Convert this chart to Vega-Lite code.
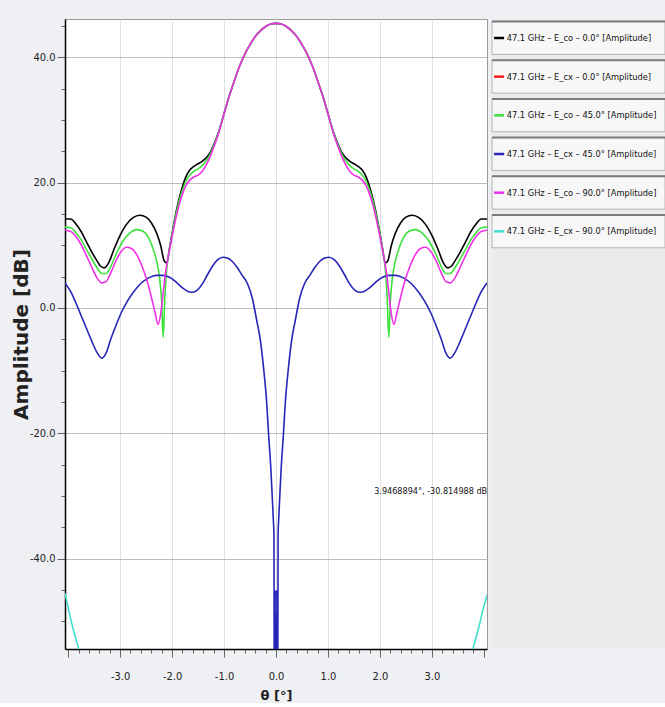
{
"$schema": "https://vega.github.io/schema/vega-lite/v6.json",
"background": "#eef0f3",
"padding": {"left": 10, "top": 18, "right": 0, "bottom": 0},
"spacing": 3,
"config": {"font": "'DejaVu Sans Condensed', 'Liberation Sans', sans-serif", "view": {"stroke": null}},
"resolve": {"scale": {"color": "shared"}},
"datasets": {
"lines": [
{"s":"co0","t":-4.06,"a":14.2},{"s":"co0","t":-3.95,"a":14.2},{"s":"co0","t":-3.85,"a":13.4},{"s":"co0","t":-3.75,"a":12.2},{"s":"co0","t":-3.65,"a":10.6},{"s":"co0","t":-3.55,"a":9.0},{"s":"co0","t":-3.45,"a":7.6},{"s":"co0","t":-3.38,"a":6.7},{"s":"co0","t":-3.30,"a":6.4},{"s":"co0","t":-3.22,"a":7.2},{"s":"co0","t":-3.12,"a":9.3},{"s":"co0","t":-3.00,"a":11.6},{"s":"co0","t":-2.88,"a":13.3},{"s":"co0","t":-2.75,"a":14.4},{"s":"co0","t":-2.62,"a":14.8},{"s":"co0","t":-2.50,"a":14.5},{"s":"co0","t":-2.40,"a":13.6},{"s":"co0","t":-2.30,"a":12.0},{"s":"co0","t":-2.22,"a":10.0},{"s":"co0","t":-2.15,"a":7.5},{"s":"co0","t":-2.10,"a":7.2},{"s":"co0","t":-2.05,"a":9.5},{"s":"co0","t":-1.98,"a":12.8},{"s":"co0","t":-1.90,"a":16.2},{"s":"co0","t":-1.82,"a":18.8},{"s":"co0","t":-1.74,"a":20.8},{"s":"co0","t":-1.66,"a":22.0},{"s":"co0","t":-1.58,"a":22.6},{"s":"co0","t":-1.50,"a":23.0},{"s":"co0","t":-1.42,"a":23.4},{"s":"co0","t":-1.35,"a":23.9},{"s":"co0","t":-1.28,"a":24.6},{"s":"co0","t":-1.20,"a":26.0},{"s":"co0","t":-1.10,"a":28.2},{"s":"co0","t":-1.00,"a":31.0},{"s":"co0","t":-0.90,"a":33.8},{"s":"co0","t":-0.80,"a":36.3},{"s":"co0","t":-0.70,"a":38.6},{"s":"co0","t":-0.60,"a":40.5},{"s":"co0","t":-0.50,"a":42.0},{"s":"co0","t":-0.40,"a":43.3},{"s":"co0","t":-0.30,"a":44.2},{"s":"co0","t":-0.20,"a":44.9},{"s":"co0","t":-0.10,"a":45.3},{"s":"co0","t":0.0,"a":45.4},
{"s":"co0","t":0.10,"a":45.3},{"s":"co0","t":0.20,"a":44.9},{"s":"co0","t":0.30,"a":44.2},{"s":"co0","t":0.40,"a":43.3},{"s":"co0","t":0.50,"a":42.0},{"s":"co0","t":0.60,"a":40.5},{"s":"co0","t":0.70,"a":38.6},{"s":"co0","t":0.80,"a":36.3},{"s":"co0","t":0.90,"a":33.8},{"s":"co0","t":1.00,"a":31.0},{"s":"co0","t":1.10,"a":28.2},{"s":"co0","t":1.20,"a":26.0},{"s":"co0","t":1.28,"a":24.6},{"s":"co0","t":1.35,"a":23.9},{"s":"co0","t":1.42,"a":23.4},{"s":"co0","t":1.50,"a":23.0},{"s":"co0","t":1.58,"a":22.6},{"s":"co0","t":1.66,"a":22.0},{"s":"co0","t":1.74,"a":20.8},{"s":"co0","t":1.82,"a":18.8},{"s":"co0","t":1.90,"a":16.2},{"s":"co0","t":1.98,"a":12.8},{"s":"co0","t":2.05,"a":9.5},{"s":"co0","t":2.10,"a":7.2},{"s":"co0","t":2.15,"a":7.5},{"s":"co0","t":2.22,"a":10.0},{"s":"co0","t":2.30,"a":12.0},{"s":"co0","t":2.40,"a":13.6},{"s":"co0","t":2.50,"a":14.5},{"s":"co0","t":2.62,"a":14.8},{"s":"co0","t":2.75,"a":14.4},{"s":"co0","t":2.88,"a":13.3},{"s":"co0","t":3.00,"a":11.6},{"s":"co0","t":3.12,"a":9.3},{"s":"co0","t":3.22,"a":7.2},{"s":"co0","t":3.30,"a":6.4},{"s":"co0","t":3.38,"a":6.7},{"s":"co0","t":3.45,"a":7.6},{"s":"co0","t":3.55,"a":9.0},{"s":"co0","t":3.65,"a":10.6},{"s":"co0","t":3.75,"a":12.2},{"s":"co0","t":3.85,"a":13.4},{"s":"co0","t":3.95,"a":14.2},{"s":"co0","t":4.06,"a":14.2},
{"s":"cx0","t":-4.06,"a":-70},{"s":"cx0","t":-2.0,"a":-78},{"s":"cx0","t":0.0,"a":-90},{"s":"cx0","t":2.0,"a":-78},{"s":"cx0","t":4.06,"a":-70},
{"s":"co45","t":-4.06,"a":12.9},{"s":"co45","t":-3.95,"a":12.8},{"s":"co45","t":-3.85,"a":12.0},{"s":"co45","t":-3.75,"a":10.9},{"s":"co45","t":-3.65,"a":9.4},{"s":"co45","t":-3.55,"a":7.9},{"s":"co45","t":-3.45,"a":6.5},{"s":"co45","t":-3.35,"a":5.5},{"s":"co45","t":-3.27,"a":5.5},{"s":"co45","t":-3.18,"a":6.6},{"s":"co45","t":-3.08,"a":8.5},{"s":"co45","t":-2.95,"a":10.6},{"s":"co45","t":-2.82,"a":11.9},{"s":"co45","t":-2.68,"a":12.5},{"s":"co45","t":-2.55,"a":12.2},{"s":"co45","t":-2.45,"a":11.2},{"s":"co45","t":-2.38,"a":9.8},{"s":"co45","t":-2.30,"a":7.6},{"s":"co45","t":-2.24,"a":4.8},{"s":"co45","t":-2.20,"a":1.0},{"s":"co45","t":-2.17,"a":-4.7},{"s":"co45","t":-2.14,"a":1.5},{"s":"co45","t":-2.10,"a":6.5},{"s":"co45","t":-2.05,"a":9.3},{"s":"co45","t":-1.98,"a":12.6},{"s":"co45","t":-1.90,"a":15.9},{"s":"co45","t":-1.82,"a":18.3},{"s":"co45","t":-1.74,"a":20.1},{"s":"co45","t":-1.66,"a":21.2},{"s":"co45","t":-1.58,"a":21.8},{"s":"co45","t":-1.50,"a":22.2},{"s":"co45","t":-1.42,"a":22.7},{"s":"co45","t":-1.35,"a":23.4},{"s":"co45","t":-1.28,"a":24.3},{"s":"co45","t":-1.20,"a":25.8},{"s":"co45","t":-1.10,"a":28.1},{"s":"co45","t":-1.00,"a":31.0},{"s":"co45","t":-0.90,"a":33.8},{"s":"co45","t":-0.80,"a":36.3},{"s":"co45","t":-0.70,"a":38.6},{"s":"co45","t":-0.60,"a":40.5},{"s":"co45","t":-0.50,"a":42.0},{"s":"co45","t":-0.40,"a":43.3},{"s":"co45","t":-0.30,"a":44.2},{"s":"co45","t":-0.20,"a":44.9},{"s":"co45","t":-0.10,"a":45.3},{"s":"co45","t":0.0,"a":45.4},
{"s":"co45","t":0.10,"a":45.3},{"s":"co45","t":0.20,"a":44.9},{"s":"co45","t":0.30,"a":44.2},{"s":"co45","t":0.40,"a":43.3},{"s":"co45","t":0.50,"a":42.0},{"s":"co45","t":0.60,"a":40.5},{"s":"co45","t":0.70,"a":38.6},{"s":"co45","t":0.80,"a":36.3},{"s":"co45","t":0.90,"a":33.8},{"s":"co45","t":1.00,"a":31.0},{"s":"co45","t":1.10,"a":28.1},{"s":"co45","t":1.20,"a":25.8},{"s":"co45","t":1.28,"a":24.3},{"s":"co45","t":1.35,"a":23.4},{"s":"co45","t":1.42,"a":22.7},{"s":"co45","t":1.50,"a":22.2},{"s":"co45","t":1.58,"a":21.8},{"s":"co45","t":1.66,"a":21.2},{"s":"co45","t":1.74,"a":20.1},{"s":"co45","t":1.82,"a":18.3},{"s":"co45","t":1.90,"a":15.9},{"s":"co45","t":1.98,"a":12.6},{"s":"co45","t":2.05,"a":9.3},{"s":"co45","t":2.10,"a":6.5},{"s":"co45","t":2.14,"a":1.5},{"s":"co45","t":2.17,"a":-4.7},{"s":"co45","t":2.20,"a":1.0},{"s":"co45","t":2.24,"a":4.8},{"s":"co45","t":2.30,"a":7.6},{"s":"co45","t":2.38,"a":9.8},{"s":"co45","t":2.45,"a":11.2},{"s":"co45","t":2.55,"a":12.2},{"s":"co45","t":2.68,"a":12.5},{"s":"co45","t":2.82,"a":11.9},{"s":"co45","t":2.95,"a":10.6},{"s":"co45","t":3.08,"a":8.5},{"s":"co45","t":3.18,"a":6.6},{"s":"co45","t":3.27,"a":5.5},{"s":"co45","t":3.35,"a":5.5},{"s":"co45","t":3.45,"a":6.5},{"s":"co45","t":3.55,"a":7.9},{"s":"co45","t":3.65,"a":9.4},{"s":"co45","t":3.75,"a":10.9},{"s":"co45","t":3.85,"a":12.0},{"s":"co45","t":3.95,"a":12.8},{"s":"co45","t":4.06,"a":12.9},
{"s":"cx45","t":-4.06,"a":4.0},{"s":"cx45","t":-3.95,"a":2.6},{"s":"cx45","t":-3.85,"a":0.8},{"s":"cx45","t":-3.75,"a":-1.2},{"s":"cx45","t":-3.65,"a":-3.2},{"s":"cx45","t":-3.55,"a":-5.2},{"s":"cx45","t":-3.45,"a":-7.0},{"s":"cx45","t":-3.35,"a":-8.0},{"s":"cx45","t":-3.27,"a":-7.2},{"s":"cx45","t":-3.18,"a":-5.0},{"s":"cx45","t":-3.08,"a":-2.8},{"s":"cx45","t":-2.98,"a":-0.8},{"s":"cx45","t":-2.85,"a":1.2},{"s":"cx45","t":-2.72,"a":2.8},{"s":"cx45","t":-2.60,"a":3.9},{"s":"cx45","t":-2.45,"a":4.8},{"s":"cx45","t":-2.30,"a":5.2},{"s":"cx45","t":-2.18,"a":5.2},{"s":"cx45","t":-2.05,"a":4.9},{"s":"cx45","t":-1.93,"a":4.2},{"s":"cx45","t":-1.80,"a":3.2},{"s":"cx45","t":-1.68,"a":2.6},{"s":"cx45","t":-1.60,"a":2.5},{"s":"cx45","t":-1.52,"a":2.8},{"s":"cx45","t":-1.42,"a":3.8},{"s":"cx45","t":-1.32,"a":5.3},{"s":"cx45","t":-1.22,"a":6.7},{"s":"cx45","t":-1.12,"a":7.7},{"s":"cx45","t":-1.02,"a":8.1},{"s":"cx45","t":-0.95,"a":8.0},{"s":"cx45","t":-0.85,"a":7.5},{"s":"cx45","t":-0.75,"a":6.5},{"s":"cx45","t":-0.65,"a":5.2},{"s":"cx45","t":-0.55,"a":3.9},{"s":"cx45","t":-0.45,"a":1.4},{"s":"cx45","t":-0.38,"a":-1.6},{"s":"cx45","t":-0.30,"a":-5.2},{"s":"cx45","t":-0.24,"a":-9.5},{"s":"cx45","t":-0.18,"a":-15.0},{"s":"cx45","t":-0.14,"a":-20.5},{"s":"cx45","t":-0.10,"a":-25.5},{"s":"cx45","t":-0.07,"a":-30.5},{"s":"cx45","t":-0.05,"a":-34.0},{"s":"cx45","t":-0.04,"a":-36.0},{"s":"cx45","t":-0.03,"a":-75},{"s":"cx45","t":-0.015,"a":-45},{"s":"cx45","t":0.0,"a":-80},{"s":"cx45","t":0.015,"a":-45},{"s":"cx45","t":0.03,"a":-75},{"s":"cx45","t":0.04,"a":-36.0},{"s":"cx45","t":0.05,"a":-34.0},{"s":"cx45","t":0.07,"a":-30.5},{"s":"cx45","t":0.10,"a":-25.5},{"s":"cx45","t":0.14,"a":-20.5},{"s":"cx45","t":0.18,"a":-15.0},{"s":"cx45","t":0.24,"a":-9.5},{"s":"cx45","t":0.30,"a":-5.2},{"s":"cx45","t":0.38,"a":-1.6},{"s":"cx45","t":0.45,"a":1.4},{"s":"cx45","t":0.55,"a":3.9},{"s":"cx45","t":0.65,"a":5.2},{"s":"cx45","t":0.75,"a":6.5},{"s":"cx45","t":0.85,"a":7.5},{"s":"cx45","t":0.95,"a":8.0},{"s":"cx45","t":1.02,"a":8.1},{"s":"cx45","t":1.12,"a":7.7},{"s":"cx45","t":1.22,"a":6.7},{"s":"cx45","t":1.32,"a":5.3},{"s":"cx45","t":1.42,"a":3.8},{"s":"cx45","t":1.52,"a":2.8},{"s":"cx45","t":1.60,"a":2.5},{"s":"cx45","t":1.68,"a":2.6},{"s":"cx45","t":1.80,"a":3.2},{"s":"cx45","t":1.93,"a":4.2},{"s":"cx45","t":2.05,"a":4.9},{"s":"cx45","t":2.18,"a":5.2},{"s":"cx45","t":2.30,"a":5.2},{"s":"cx45","t":2.45,"a":4.8},{"s":"cx45","t":2.60,"a":3.9},{"s":"cx45","t":2.72,"a":2.8},{"s":"cx45","t":2.85,"a":1.2},{"s":"cx45","t":2.98,"a":-0.8},{"s":"cx45","t":3.08,"a":-2.8},{"s":"cx45","t":3.18,"a":-5.0},{"s":"cx45","t":3.27,"a":-7.2},{"s":"cx45","t":3.35,"a":-8.0},{"s":"cx45","t":3.45,"a":-7.0},{"s":"cx45","t":3.55,"a":-5.2},{"s":"cx45","t":3.65,"a":-3.2},{"s":"cx45","t":3.75,"a":-1.2},{"s":"cx45","t":3.85,"a":0.8},{"s":"cx45","t":3.95,"a":2.6},{"s":"cx45","t":4.06,"a":4.0},
{"s":"co90","t":-4.06,"a":12.4},{"s":"co90","t":-3.95,"a":12.2},{"s":"co90","t":-3.85,"a":11.4},{"s":"co90","t":-3.75,"a":10.1},{"s":"co90","t":-3.65,"a":8.4},{"s":"co90","t":-3.55,"a":6.6},{"s":"co90","t":-3.45,"a":4.9},{"s":"co90","t":-3.35,"a":4.0},{"s":"co90","t":-3.27,"a":4.2},{"s":"co90","t":-3.18,"a":5.6},{"s":"co90","t":-3.08,"a":7.5},{"s":"co90","t":-2.98,"a":9.0},{"s":"co90","t":-2.88,"a":9.7},{"s":"co90","t":-2.78,"a":9.5},{"s":"co90","t":-2.68,"a":8.5},{"s":"co90","t":-2.58,"a":6.7},{"s":"co90","t":-2.48,"a":4.3},{"s":"co90","t":-2.40,"a":1.8},{"s":"co90","t":-2.33,"a":-0.6},{"s":"co90","t":-2.27,"a":-2.6},{"s":"co90","t":-2.22,"a":-1.0},{"s":"co90","t":-2.17,"a":2.5},{"s":"co90","t":-2.12,"a":6.0},{"s":"co90","t":-2.06,"a":8.8},{"s":"co90","t":-1.98,"a":12.2},{"s":"co90","t":-1.90,"a":15.3},{"s":"co90","t":-1.82,"a":17.7},{"s":"co90","t":-1.74,"a":19.4},{"s":"co90","t":-1.66,"a":20.4},{"s":"co90","t":-1.58,"a":20.9},{"s":"co90","t":-1.50,"a":21.2},{"s":"co90","t":-1.42,"a":21.8},{"s":"co90","t":-1.35,"a":22.7},{"s":"co90","t":-1.28,"a":23.9},{"s":"co90","t":-1.20,"a":25.6},{"s":"co90","t":-1.10,"a":28.0},{"s":"co90","t":-1.00,"a":31.0},{"s":"co90","t":-0.90,"a":33.8},{"s":"co90","t":-0.80,"a":36.3},{"s":"co90","t":-0.70,"a":38.6},{"s":"co90","t":-0.60,"a":40.5},{"s":"co90","t":-0.50,"a":42.0},{"s":"co90","t":-0.40,"a":43.3},{"s":"co90","t":-0.30,"a":44.2},{"s":"co90","t":-0.20,"a":44.9},{"s":"co90","t":-0.10,"a":45.3},{"s":"co90","t":0.0,"a":45.4},
{"s":"co90","t":0.10,"a":45.3},{"s":"co90","t":0.20,"a":44.9},{"s":"co90","t":0.30,"a":44.2},{"s":"co90","t":0.40,"a":43.3},{"s":"co90","t":0.50,"a":42.0},{"s":"co90","t":0.60,"a":40.5},{"s":"co90","t":0.70,"a":38.6},{"s":"co90","t":0.80,"a":36.3},{"s":"co90","t":0.90,"a":33.8},{"s":"co90","t":1.00,"a":31.0},{"s":"co90","t":1.10,"a":28.0},{"s":"co90","t":1.20,"a":25.6},{"s":"co90","t":1.28,"a":23.9},{"s":"co90","t":1.35,"a":22.7},{"s":"co90","t":1.42,"a":21.8},{"s":"co90","t":1.50,"a":21.2},{"s":"co90","t":1.58,"a":20.9},{"s":"co90","t":1.66,"a":20.4},{"s":"co90","t":1.74,"a":19.4},{"s":"co90","t":1.82,"a":17.7},{"s":"co90","t":1.90,"a":15.3},{"s":"co90","t":1.98,"a":12.2},{"s":"co90","t":2.06,"a":8.8},{"s":"co90","t":2.12,"a":6.0},{"s":"co90","t":2.17,"a":2.5},{"s":"co90","t":2.22,"a":-1.0},{"s":"co90","t":2.27,"a":-2.6},{"s":"co90","t":2.33,"a":-0.6},{"s":"co90","t":2.40,"a":1.8},{"s":"co90","t":2.48,"a":4.3},{"s":"co90","t":2.58,"a":6.7},{"s":"co90","t":2.68,"a":8.5},{"s":"co90","t":2.78,"a":9.5},{"s":"co90","t":2.88,"a":9.7},{"s":"co90","t":2.98,"a":9.0},{"s":"co90","t":3.08,"a":7.5},{"s":"co90","t":3.18,"a":5.6},{"s":"co90","t":3.27,"a":4.2},{"s":"co90","t":3.35,"a":4.0},{"s":"co90","t":3.45,"a":4.9},{"s":"co90","t":3.55,"a":6.6},{"s":"co90","t":3.65,"a":8.4},{"s":"co90","t":3.75,"a":10.1},{"s":"co90","t":3.85,"a":11.4},{"s":"co90","t":3.95,"a":12.2},{"s":"co90","t":4.06,"a":12.4},
{"s":"cx90","t":-4.06,"a":-45.5},{"s":"cx90","t":-3.98,"a":-48.5},{"s":"cx90","t":-3.90,"a":-51.3},{"s":"cx90","t":-3.80,"a":-54.2},{"s":"cx90","t":-3.70,"a":-57.0},{"s":"cx90","t":-3.60,"a":-60.0},{"s":"cx90","t":-2.0,"a":-75},{"s":"cx90","t":0.0,"a":-85},{"s":"cx90","t":2.0,"a":-75},{"s":"cx90","t":3.60,"a":-60.0},{"s":"cx90","t":3.70,"a":-57.0},{"s":"cx90","t":3.80,"a":-54.0},{"s":"cx90","t":3.90,"a":-51.0},{"s":"cx90","t":3.98,"a":-48.2},{"s":"cx90","t":4.06,"a":-45.8}
],
"note": [{"label": "3.9468894°, -30.814988 dB", "t": 3.9468894, "a": -30.814988}],
"legend": [
{"s":"co0","k":0,"label":"47.1 GHz – E_co – 0.0° [Amplitude]"},
{"s":"cx0","k":1,"label":"47.1 GHz – E_cx – 0.0° [Amplitude]"},
{"s":"co45","k":2,"label":"47.1 GHz – E_co – 45.0° [Amplitude]"},
{"s":"cx45","k":3,"label":"47.1 GHz – E_cx – 45.0° [Amplitude]"},
{"s":"co90","k":4,"label":"47.1 GHz – E_co – 90.0° [Amplitude]"},
{"s":"cx90","k":5,"label":"47.1 GHz – E_cx – 90.0° [Amplitude]"}
]
},
"hconcat": [
{
"width": 422, "height": 630,
"view": {"fill": "white", "stroke": "#9a9a9a", "strokeWidth": 1},
"layer": [
{
"data": {"name": "lines"},
"mark": {"type": "line", "strokeWidth": 1.6, "clip": true, "interpolate": "monotone"},
"encoding": {
"x": {"field": "t", "type": "quantitative",
 "scale": {"domain": [-4.06, 4.06], "nice": false, "zero": false},
 "axis": {
  "values": [-4.0,-3.8,-3.6,-3.4,-3.2,-3.0,-2.8,-2.6,-2.4,-2.2,-2.0,-1.8,-1.6,-1.4,-1.2,-1.0,-0.8,-0.6,-0.4,-0.2,0.0,0.2,0.4,0.6,0.8,1.0,1.2,1.4,1.6,1.8,2.0,2.2,2.4,2.6,2.8,3.0,3.2,3.4,3.6,3.8,4.0],
  "tickCount": 200,
  "labelExpr": "abs(datum.value - round(datum.value)) < 0.01 && abs(datum.value) < 3.5 ? replace(format(datum.value, '.1f'), '−', '-') : ''",
  "labelOverlap": false, "labelFlush": false,
  "labelFontSize": 11, "labelColor": "#222", "labelPadding": 13,
  "tickSize": {"condition": {"test": "abs(datum.value - round(datum.value)) < 0.01", "value": 8}, "value": 4},
  "tickColor": "#666",
  "grid": true, "gridColor": "#e0e0e0",
  "gridOpacity": {"condition": {"test": "abs(datum.value - round(datum.value)) < 0.01 && abs(datum.value) < 3.5", "value": 1}, "value": 0},
  "domainColor": "#000", "domainWidth": 1.5,
  "title": "θ [°]", "titleFont": "DejaVu Sans", "titleFontSize": 13, "titleFontWeight": "bold", "titlePadding": 8, "titleColor": "#222"
 }},
"y": {"field": "a", "type": "quantitative",
 "scale": {"domain": [-54.4, 46.1], "nice": false, "zero": false},
 "axis": {
  "values": [-50,-45,-40,-35,-30,-25,-20,-15,-10,-5,0,5,10,15,20,25,30,35,40,45],
  "tickCount": 200,
  "labelExpr": "abs(datum.value % 20) < 0.01 ? replace(format(datum.value, '.1f'), '−', '-') : ''",
  "labelOverlap": false, "labelFlush": false,
  "labelFontSize": 11, "labelColor": "#222", "labelPadding": 2,
  "tickSize": {"condition": {"test": "abs(datum.value % 20) < 0.01", "value": 8}, "value": 4},
  "tickColor": "#666",
  "grid": true, "gridColor": "#bdbdbd",
  "gridOpacity": {"condition": {"test": "abs(datum.value % 20) < 0.01", "value": 1}, "value": 0},
  "domainColor": "#000", "domainWidth": 1.5,
  "title": "Amplitude [dB]", "titleFont": "DejaVu Sans", "titleFontSize": 20, "titleFontWeight": "bold", "titleX": -34, "titleColor": "#222"
 }},
"color": {"field": "s", "type": "nominal",
 "scale": {"domain": ["co0","cx0","co45","cx45","co90","cx90"], "range": ["#000000","#ff1a1a","#3ee03e","#2525b8","#f030e8","#40e0d0"]},
 "legend": null}
}
},
{
"data": {"name": "note"},
"mark": {"type": "text", "align": "right", "baseline": "middle", "fontSize": 9, "dx": 6, "dy": -10, "color": "#111"},
"encoding": {
"x": {"field": "t", "type": "quantitative"},
"y": {"field": "a", "type": "quantitative"},
"text": {"field": "label", "type": "nominal"}
}
}
]
},
{
"width": 173, "height": 630,
"view": {"fill": "#ebebeb", "stroke": null},
"data": {"name": "legend"},
"encoding": {
"y": {"field": "k", "type": "ordinal",
 "scale": {"domain": [0,1,2,3,4,5,6,7,8,9,10,11,12,13,14,15], "paddingInner": 0.15, "paddingOuter": 0.22, "align": 0.15},
 "axis": null}
},
"layer": [
{"mark": {"type": "bar", "fill": "#f7f7f7", "stroke": "#b4b4b4", "strokeWidth": 1}},
{"mark": {"type": "rule", "strokeWidth": 2, "color": "#7a7a7a"},
 "encoding": {"y": {"field": "k", "type": "ordinal", "bandPosition": 0}}},
{"mark": {"type": "rule", "strokeWidth": 2.5},
 "encoding": {
  "x": {"datum": 0.012, "type": "quantitative", "scale": {"domain": [0, 1]}, "axis": null},
  "x2": {"datum": 0.07},
  "color": {"field": "s", "type": "nominal", "legend": null}}},
{"mark": {"type": "text", "align": "left", "baseline": "middle", "fontSize": 9.2, "color": "#111"},
 "encoding": {
  "x": {"datum": 0.085, "type": "quantitative"},
  "text": {"field": "label", "type": "nominal"}}}
]
}
]
}
